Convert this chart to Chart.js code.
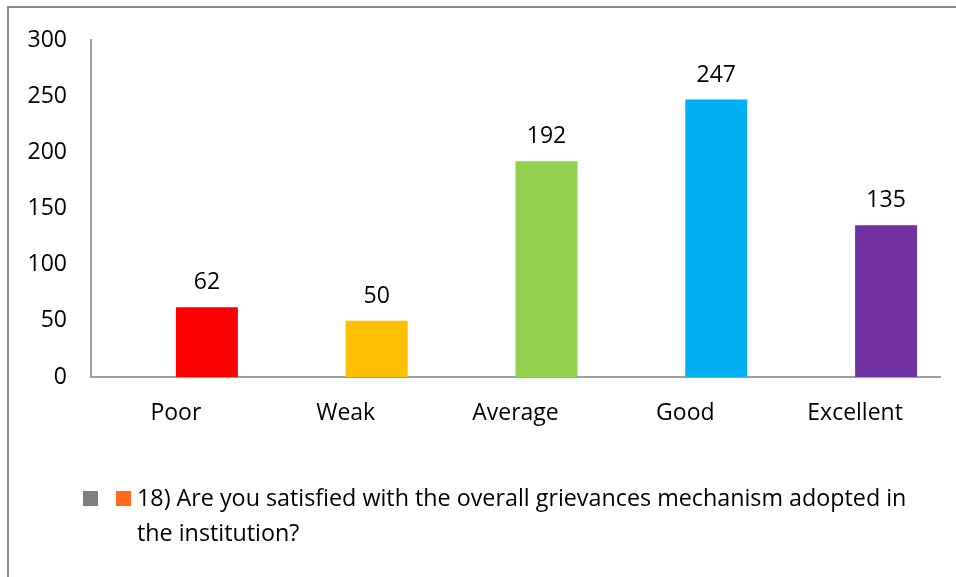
<!DOCTYPE html>
<html>
<head>
<meta charset="utf-8">
<script src="https://cdn.jsdelivr.net/npm/chart.js@4.4.0/dist/chart.umd.min.js"></script>
<style>
    body { margin: 0; background: #fff; overflow: hidden; font-family: 'Open Sans', sans-serif; }
    #frame { position: absolute; left: 7px; top: 6px; width: 1000px; height: 1000px; border: 2px solid #8c8c8c; box-sizing: border-box; }
    #wrap { position: absolute; left: 0; top: 0; width: 956px; height: 577px; }
    #legend { position: absolute; left: 0; top: 0; }
    #legend .sw { position: absolute; width: 15px; height: 15px; top: 491px; }
    #legend .txt { position: absolute; left: 137px; top: 480px; font-size: 23.3px; line-height: 35px; color: #000; white-space: nowrap; }
</style>
</head>
<body>
<div id="frame"></div>
<div id="wrap"><canvas id="gradeChart" width="956" height="577"></canvas></div>
<div id="legend"></div>
<script>
const categories = ['Poor', 'Weak', 'Average', 'Good', 'Excellent'];
const emptySeries = [null, null, null, null, null];
const responses = [62, 50, 192, 247, 135];
const barColors = ['#ff0000', '#ffc000', '#92d050', '#00b0f0', '#7030a0'];
const seriesLabel = ['18) Are you satisfied with the overall grievances mechanism adopted in', 'the institution?'];
const legendColors = ['#7f7f7f', '#ff6a1c'];

document.addEventListener('DOMContentLoaded', function() {
    buildLegend();
    createGradeChart();
});

function buildLegend() {
    const el = document.getElementById('legend');
    el.innerHTML = '<span class="sw" style="left:83px;background:' + legendColors[0] + '"></span>' +
        '<span class="sw" style="left:116px;background:' + legendColors[1] + '"></span>' +
        '<span class="txt">' + seriesLabel.join('<br>') + '</span>';
}

// value labels above each bar of the real series
const valueLabels = {
    id: 'valueLabels',
    afterDatasetsDraw(chart) {
        const ctx = chart.ctx;
        const meta = chart.getDatasetMeta(1);
        ctx.save();
        ctx.font = '23px "Open Sans"';
        ctx.fillStyle = '#000';
        ctx.textAlign = 'center';
        ctx.textBaseline = 'bottom';
        meta.data.forEach(function(bar, i) {
            ctx.fillText(String(responses[i]), bar.x, bar.y - 13);
        });
        ctx.restore();
    }
};

function createGradeChart() {
    const ctx = document.getElementById('gradeChart').getContext('2d');
    new Chart(ctx, {
        type: 'bar',
        data: {
            labels: categories,
            datasets: [{
                label: '',
                data: emptySeries,
                backgroundColor: legendColors[0],
                categoryPercentage: 0.73,
                barPercentage: 1
            }, {
                label: seriesLabel.join(' '),
                data: responses,
                backgroundColor: barColors,
                categoryPercentage: 0.73,
                barPercentage: 1
            }]
        },
        options: {
            responsive: false,
            animation: false,
            layout: { padding: { left: 0, right: 16, top: 40, bottom: 0 } },
            plugins: {
                legend: { display: false },
                tooltip: { enabled: false }
            },
            scales: {
                x: {
                    grid: { display: false },
                    border: { color: '#a0a0a0', width: 2 },
                    ticks: { color: '#000', font: { family: 'Open Sans', size: 23 }, padding: 15 },
                    afterFit: function(scale) { scale.height = 200; }
                },
                y: {
                    min: 0,
                    max: 300,
                    ticks: { stepSize: 50, color: '#000', font: { family: 'Open Sans', size: 23 }, padding: 16 },
                    grid: { display: false },
                    border: { color: '#a0a0a0', width: 2 },
                    afterFit: function(scale) { scale.width = 91; }
                }
            }
        },
        plugins: [valueLabels]
    });
}
</script>
</body>
</html>
